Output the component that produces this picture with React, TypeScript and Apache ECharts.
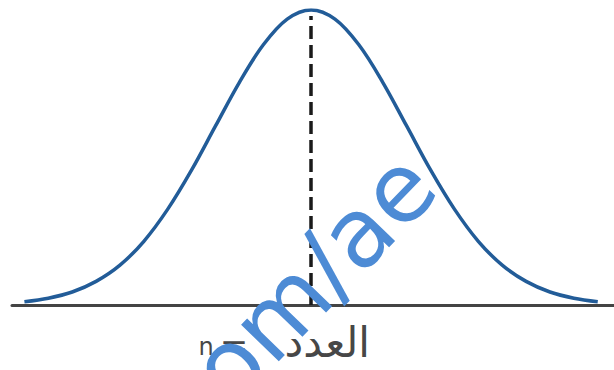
import React, { useEffect, useRef } from "react";
import * as echarts from "echarts";

// Standardised positions along the horizontal axis (mean at 0)
const xValues = [-3, -2.75, -2.5, -2.25, -2, -1.75, -1.5, -1.25, -1, -0.75, -0.5, -0.25, 0,
  0.25, 0.5, 0.75, 1, 1.25, 1.5, 1.75, 2, 2.25, 2.5, 2.75, 3];
// Relative height of the bell curve (peak = 1)
const yValues = [0.011, 0.023, 0.044, 0.08, 0.135, 0.216, 0.325, 0.458, 0.607, 0.755, 0.882, 0.969, 1,
  0.969, 0.882, 0.755, 0.607, 0.458, 0.325, 0.216, 0.135, 0.08, 0.044, 0.023, 0.011];
const meanX = 0;
const meanLineTop = 0.98;
const labelVar = "n";
const labelEq = "=";
const labelWord = "العدد";
const watermark = "com/ae";

export default function App() {
  const ref = useRef<HTMLDivElement>(null);
  useEffect(() => {
    if (!ref.current) return;
    const chart = echarts.init(ref.current, undefined, { renderer: "svg" });
    const points = xValues.map((x, i) => [x, yValues[i]]);
    const labelColor = "#474747";
    chart.setOption({
      animation: false,
      backgroundColor: "#ffffff",
      grid: { left: 12, right: 0, top: 10, bottom: 65 },
      xAxis: {
        type: "value",
        min: -3.13,
        max: 3.17,
        axisLine: { show: true, onZero: false, lineStyle: { color: "#444444", width: 3 } },
        axisTick: { show: false },
        axisLabel: { show: false },
        splitLine: { show: false },
      },
      yAxis: {
        type: "value",
        min: 0,
        max: 1,
        show: false,
        splitLine: { show: false },
      },
      series: [
        {
          type: "line",
          data: points,
          smooth: 0.35,
          symbol: "none",
          lineStyle: { color: "#225c98", width: 3.5 },
          z: 3,
          markLine: {
            silent: true,
            symbol: "none",
            label: { show: false },
            lineStyle: { color: "#1a1a1a", width: 3.5, type: [13, 6] },
            data: [[{ coord: [meanX, 0] }, { coord: [meanX, meanLineTop] }]],
          },
        },
      ],
      graphic: [
        {
          type: "text",
          x: 206,
          y: 347,
          z: 5,
          style: {
            text: labelVar,
            fill: labelColor,
            font: "24px 'DejaVu Sans'",
            textAlign: "center",
            textVerticalAlign: "middle",
          },
        },
        {
          type: "text",
          x: 234,
          y: 345,
          z: 5,
          style: {
            text: labelEq,
            fill: labelColor,
            font: "34px 'DejaVu Sans'",
            textAlign: "center",
            textVerticalAlign: "middle",
          },
        },
        {
          type: "text",
          x: 370,
          y: 342,
          z: 5,
          style: {
            text: labelWord,
            fill: labelColor,
            font: "42px 'DejaVu Sans'",
            textAlign: "right",
            textVerticalAlign: "middle",
          },
        },
        {
          type: "text",
          x: 295,
          y: 297,
          rotation: (46 * Math.PI) / 180,
          z: 10,
          style: {
            text: watermark,
            fill: "#4d8bd5",
            font: "96px 'DejaVu Sans'",
            textAlign: "center",
            textVerticalAlign: "middle",
          },
        },
      ],
    });
    return () => chart.dispose();
  }, []);
  return (
    <div
      ref={ref}
      style={{ position: "absolute", left: 0, top: 0, width: 614, height: 370 }}
    />
  );
}
